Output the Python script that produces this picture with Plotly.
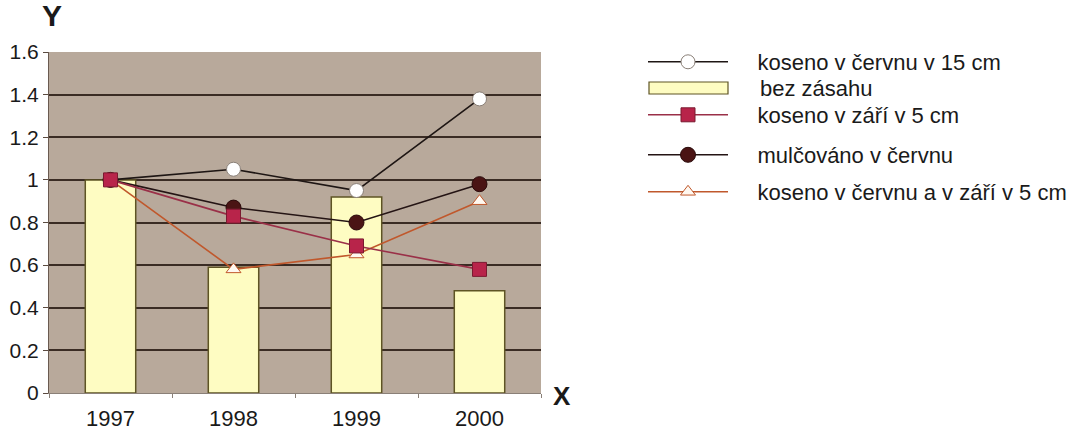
import plotly.graph_objects as go

# Years on the category axis
years = ["1997", "1998", "1999", "2000"]

# Relative values per treatment
bez_zasahu = [1.0, 0.59, 0.92, 0.48]
koseno_cerven_15 = [1.0, 1.05, 0.95, 1.38]
koseno_zari_5 = [1.0, 0.83, 0.69, 0.58]
mulcovano_cerven = [1.0, 0.87, 0.80, 0.98]
koseno_cerven_zari_5 = [1.0, 0.58, 0.65, 0.90]

y_ticks = [0, 0.2, 0.4, 0.6, 0.8, 1.0, 1.2, 1.4, 1.6]
y_tick_text = ["0", "0.2", "0.4", "0.6", "0.8", "1", "1.2", "1.4", "1.6"]

FONT = "Liberation Sans, Arial, sans-serif"
W, H = 1071, 432
PLOT_L, PLOT_R, PLOT_T, PLOT_B = 49, 541, 52, 393
PAD = "\u00a0\u00a0\u00a0\u00a0"  # gap between legend key and label
LEGEND_FONT = dict(family=FONT, size=22, color="#1a1a1a")

BAR_FILL = "#fefcc2"
BAR_EDGE = "#5e5424"


def px_to_paper_x(px):
    return (px - PLOT_L) / (PLOT_R - PLOT_L)


def px_to_paper_y(py):
    return (PLOT_B - py) / (PLOT_B - PLOT_T)


fig = go.Figure()

fig.add_trace(go.Bar(
    x=years, y=bez_zasahu, name="bez zásahu", width=0.41,
    marker=dict(color=BAR_FILL, line=dict(color=BAR_EDGE, width=1.5)),
    showlegend=False,
))

fig.add_trace(go.Scatter(
    x=years, y=koseno_cerven_15, name=PAD + "koseno v červnu v 15 cm",
    mode="lines+markers",
    line=dict(color="#1e1614", width=1.6),
    marker=dict(symbol="circle", size=14, color="#ffffff",
                line=dict(color="#8a8078", width=1)),
    legend="legend",
))

fig.add_trace(go.Scatter(
    x=years, y=koseno_cerven_zari_5, name=PAD + "koseno v červnu a v září v 5 cm",
    mode="lines+markers",
    line=dict(color="#c0582c", width=1.6),
    marker=dict(symbol="triangle-up", size=13, color="#fff8f0",
                line=dict(color="#c0582c", width=1)),
    legend="legend4",
))

fig.add_trace(go.Scatter(
    x=years, y=mulcovano_cerven, name=PAD + "mulčováno v červnu",
    mode="lines+markers",
    line=dict(color="#241414", width=1.6),
    marker=dict(symbol="circle", size=15, color="#4a1414",
                line=dict(color="#2a0a0a", width=1)),
    legend="legend3",
))

fig.add_trace(go.Scatter(
    x=years, y=koseno_zari_5, name=PAD + "koseno v září v 5 cm",
    mode="lines+markers",
    line=dict(color="#9a3048", width=1.6),
    marker=dict(symbol="square", size=14, color="#b8244a",
                line=dict(color="#7a1a30", width=1)),
    legend="legend2",
))

# One legend box per row so the row spacing can follow the layout
rows = {"legend": 62, "legend2": 115, "legend3": 155, "legend4": 192}
legend_common = dict(
    xref="container", yref="container", xanchor="left", yanchor="middle",
    bgcolor="rgba(0,0,0,0)", borderwidth=0, itemwidth=80,
    font=LEGEND_FONT,
)
legend_layout = {
    key: dict(x=643 / W, y=1 - py / H, **legend_common)
    for key, py in rows.items()
}

# Legend key for the bars: a wide outlined rectangle with its label
fig.add_shape(type="rect", xref="paper", yref="paper",
              x0=px_to_paper_x(649), x1=px_to_paper_x(728),
              y0=px_to_paper_y(94), y1=px_to_paper_y(82),
              fillcolor=BAR_FILL, line=dict(color=BAR_EDGE, width=1.2))
fig.add_annotation(text="bez zásahu", xref="paper", yref="paper",
                   x=px_to_paper_x(758), y=px_to_paper_y(88),
                   xanchor="left", yanchor="middle", showarrow=False,
                   font=LEGEND_FONT)

fig.update_layout(
    width=W, height=H,
    margin=dict(l=PLOT_L, r=W - PLOT_R, t=PLOT_T, b=H - PLOT_B),
    paper_bgcolor="#ffffff",
    plot_bgcolor="#b8a99b",
    font=dict(family=FONT, size=22, color="#1a1a1a"),
    showlegend=True,
    bargap=0.59,
    **legend_layout,
)

fig.update_xaxes(
    type="category", showgrid=False, tickson="boundaries",
    ticks="outside", ticklen=4, tickcolor="#8a8078",
    showline=True, linecolor="#8a8078", linewidth=1,
    tickfont=dict(family=FONT, size=22, color="#1a1a1a"),
    ticklabelstandoff=6,
    automargin=False,
)
fig.update_yaxes(
    range=[0, 1.6], tickvals=y_ticks, ticktext=y_tick_text,
    showgrid=True, gridcolor="#3a2c24", gridwidth=2,
    ticks="outside", ticklen=5, tickcolor="#5a4a40",
    showline=True, linecolor="#6a5a50", linewidth=1,
    zeroline=False,
    tickfont=dict(family=FONT, size=21, color="#1a1a1a"),
    automargin=False,
)

# Axis letters
fig.add_annotation(text="<b>Y</b>", xref="paper", yref="paper",
                   x=px_to_paper_x(52), y=px_to_paper_y(34),
                   xanchor="center", yanchor="bottom", showarrow=False,
                   font=dict(family=FONT, size=30, color="#1a1a1a"))
fig.add_annotation(text="<b>X</b>", xref="paper", yref="paper",
                   x=px_to_paper_x(551), y=px_to_paper_y(396),
                   xanchor="left", yanchor="middle", showarrow=False,
                   font=dict(family=FONT, size=26, color="#1a1a1a"))

fig.write_html("out.html")
